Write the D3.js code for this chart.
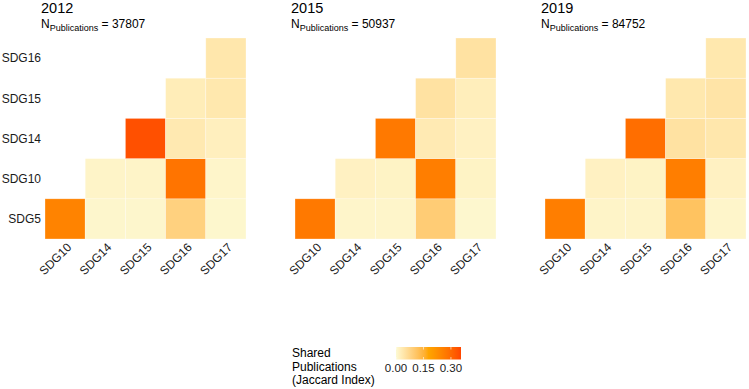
<!DOCTYPE html>
<html><head><meta charset="utf-8">
<script src="https://cdn.jsdelivr.net/npm/d3@7"></script>
<style>body{margin:0;background:#fff}svg{display:block;font-family:"Liberation Sans",Arial,sans-serif}</style>
</head><body><svg id="c" width="749" height="389"></svg>
<script>
const years = ["2012", "2015", "2019"];
const nPublications = [37807, 50937, 84752];
const rowLabels = ["SDG5", "SDG10", "SDG14", "SDG15", "SDG16"];
const colLabels = ["SDG10", "SDG14", "SDG15", "SDG16", "SDG17"];
const pairs = [
  ["SDG5","SDG10"],["SDG5","SDG14"],["SDG5","SDG15"],["SDG5","SDG16"],["SDG5","SDG17"],
  ["SDG10","SDG14"],["SDG10","SDG15"],["SDG10","SDG16"],["SDG10","SDG17"],
  ["SDG14","SDG15"],["SDG14","SDG16"],["SDG14","SDG17"],
  ["SDG15","SDG16"],["SDG15","SDG17"],
  ["SDG16","SDG17"]
];
const values2012 = [0.25,0.008,0.008,0.085,0.007, 0.012,0.012,0.28,0.01, 0.34,0.035,0.022, 0.028,0.038, 0.04];
const values2015 = [0.27,0.01,0.01,0.095,0.006, 0.018,0.015,0.26,0.015, 0.27,0.033,0.018, 0.05,0.025, 0.05];
const values2019 = [0.26,0.012,0.012,0.115,0.01, 0.018,0.015,0.26,0.018, 0.29,0.05,0.04, 0.038,0.045, 0.038];
const legendTicks = [0.00, 0.15, 0.30];

const allValues = [values2012, values2015, values2019];
const vmin = 0, vmax = 0.355;
const color = d3.scaleLinear().domain([vmin, (vmin+vmax)/2, vmax])
  .range(["#FCFAD4", "#FFA500", "#FF4500"]).interpolate(d3.interpolateLab);

const svg = d3.select("#c");
const panelW = 250;
const x0 = 45, tileTop = 38, side = 201;

allValues.forEach((vals, p) => {
  const g = svg.append("g").attr("transform", `translate(${p*panelW},0)`);
  const x = d3.scaleBand().domain(colLabels).range([x0, x0+side]);
  const y = d3.scaleBand().domain(rowLabels.slice().reverse()).range([tileTop, tileTop+side]);
  g.selectAll("rect.tile").data(pairs.map((d,i)=>({r:d[0], c:d[1], v:vals[i]})))
    .join("rect").attr("class","tile")
    .attr("x", d=>x(d.c)).attr("y", d=>y(d.r))
    .attr("width", x.bandwidth()).attr("height", y.bandwidth())
    .attr("fill", d=>color(d.v))
    .attr("stroke", "#fff").attr("stroke-opacity", 0.5).attr("stroke-width", 0.6);
  g.append("text").attr("x", 41).attr("y", 13).attr("font-size", 14.5).attr("fill", "#000").text(years[p]);
  const t = g.append("text").attr("x", 41).attr("y", 28).attr("font-size", 12).attr("fill", "#000");
  t.append("tspan").text("N");
  t.append("tspan").attr("font-size", 9).attr("dy", 3).text("Publications");
  t.append("tspan").attr("dy", -3).text(" = " + nPublications[p]);
  g.selectAll("text.xl").data(colLabels).join("text").attr("class","xl")
    .attr("transform", d=>`translate(${x(d)+x.bandwidth()/2+7},${tileTop+side+9}) rotate(-45)`)
    .attr("text-anchor","end").attr("font-size", 12).attr("fill","#1a1a1a").text(d=>d);
  if (p === 0) {
    g.selectAll("text.yl").data(rowLabels).join("text").attr("class","yl")
      .attr("x", 41).attr("y", d=>y(d)+y.bandwidth()/2+4.3)
      .attr("text-anchor","end").attr("font-size", 12).attr("fill","#1a1a1a").text(d=>d);
  }
});

const lg = svg.append("g");
["Shared","Publications","(Jaccard Index)"].forEach((s,i)=>{
  lg.append("text").attr("x", 292).attr("y", 357 + i*13.5).attr("font-size", 12).attr("fill","#000").text(s);
});
const lx = d3.scaleLinear().domain([vmin, vmax]).range([396, 461]);
const defs = svg.append("defs");
const grad = defs.append("linearGradient").attr("id","lgrad");
d3.range(0, 1.0001, 0.05).forEach(f=>{
  grad.append("stop").attr("offset", f).attr("stop-color", color(vmin + f*(vmax-vmin)));
});
const barTop = 347, barH = 12.5;
lg.append("rect").attr("x", lx(vmin)).attr("y", barTop).attr("width", lx(vmax)-lx(vmin)).attr("height", barH).attr("fill","url(#lgrad)");
legendTicks.forEach(v=>{
  lg.append("line").attr("x1", lx(v)).attr("x2", lx(v)).attr("y1", barTop).attr("y2", barTop+2.5).attr("stroke","#fff").attr("stroke-width",0.6);
  lg.append("line").attr("x1", lx(v)).attr("x2", lx(v)).attr("y1", barTop+barH-2.5).attr("y2", barTop+barH).attr("stroke","#fff").attr("stroke-width",0.6);
});
lg.selectAll("text.lt").data(legendTicks).join("text").attr("class","lt")
  .attr("x", d=>lx(d)).attr("y", 372).attr("text-anchor","middle").attr("font-size", 11.5).attr("fill","#1a1a1a")
  .text(d=>d.toFixed(2));
</script></body></html>
